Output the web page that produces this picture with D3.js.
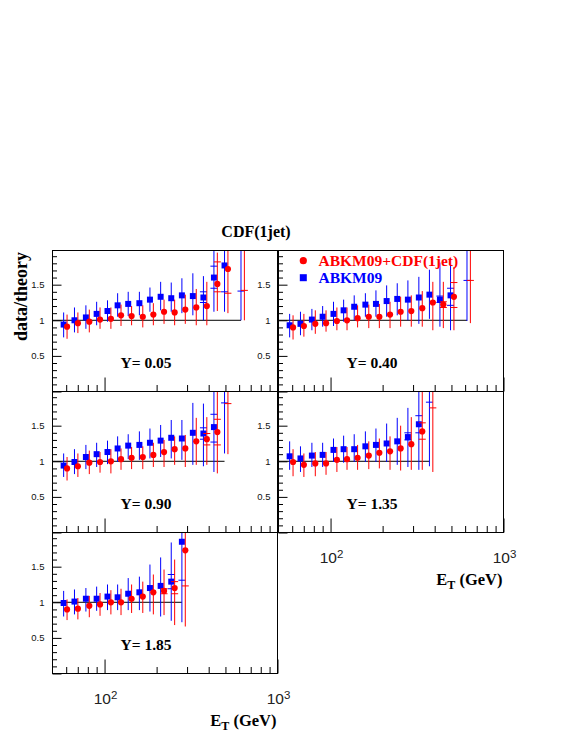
<!DOCTYPE html>
<html>
<head>
<meta charset="utf-8">
<script src="https://cdn.jsdelivr.net/npm/d3@7"></script>
<style>
  body { margin: 0; background: #fff; }
  .tick text { font-family: "Liberation Sans", Arial, sans-serif; }
</style>
</head>
<body>
<div id="chart"></div>
<script>
// ET bin centres (GeV), shared by all rapidity panels
const etBins = [58, 67, 78, 90, 104, 119, 137, 159, 183, 211, 243, 280, 324, 373, 429, 494, 615];
const rapidity = ["0.05", "0.40", "0.90", "1.35", "1.85"];

// ABKM09 (blue squares)
const abkm = [
  [0.94, 1.00, 1.04, 1.09, 1.13, 1.21, 1.23, 1.24, 1.29, 1.33, 1.31, 1.35, 1.34, 1.32, 1.60, 1.77, 2.30],
  [0.93, 0.95, 1.01, 1.05, 1.09, 1.14, 1.19, 1.22, 1.23, 1.27, 1.30, 1.29, 1.32, 1.36, 1.29, 1.35, 2.30],
  [0.94, 0.99, 1.06, 1.10, 1.13, 1.18, 1.22, 1.23, 1.26, 1.29, 1.33, 1.32, 1.40, 1.39, 1.48, 2.30],
  [1.07, 1.04, 1.08, 1.09, 1.16, 1.17, 1.17, 1.21, 1.23, 1.25, 1.28, 1.34, 1.52, 2.30],
  [0.99, 1.01, 1.05, 1.05, 1.08, 1.07, 1.12, 1.14, 1.20, 1.23, 1.29, 1.85]
];
const abkmLow = [
  [0.76, 0.83, 0.88, 0.93, 0.98, 1.05, 1.06, 1.07, 1.12, 1.14, 1.12, 1.10, 1.07, 1.00, 1.12, 1.12, 1.00],
  [0.76, 0.79, 0.86, 0.91, 0.92, 0.98, 1.00, 1.05, 1.05, 1.05, 1.07, 1.00, 0.95, 1.02, 0.91, 0.86, 0.99],
  [0.78, 0.82, 0.89, 0.92, 0.96, 0.99, 1.03, 1.02, 1.04, 1.06, 1.04, 1.02, 0.95, 0.93, 0.85, 1.11],
  [0.88, 0.85, 0.92, 0.92, 0.99, 0.98, 0.99, 0.99, 0.99, 0.99, 0.95, 0.92, 0.88, 0.93],
  [0.80, 0.83, 0.87, 0.88, 0.89, 0.89, 0.89, 0.89, 0.87, 0.80, 0.74, 0.72]
];
const abkmHigh = [
  [1.11, 1.18, 1.21, 1.26, 1.28, 1.38, 1.40, 1.40, 1.46, 1.54, 1.53, 1.59, 1.66, 1.62, 2.20, 2.40, 3.00],
  [1.09, 1.12, 1.16, 1.20, 1.26, 1.29, 1.35, 1.38, 1.42, 1.49, 1.52, 1.56, 1.61, 1.71, 1.81, 1.80, 3.00],
  [1.11, 1.17, 1.23, 1.26, 1.29, 1.35, 1.38, 1.42, 1.46, 1.51, 1.58, 1.58, 1.82, 1.81, 2.40, 3.00],
  [1.28, 1.21, 1.26, 1.26, 1.32, 1.36, 1.38, 1.42, 1.46, 1.53, 1.61, 1.75, 2.30, 3.00],
  [1.16, 1.18, 1.20, 1.22, 1.25, 1.25, 1.34, 1.36, 1.53, 1.63, 1.84, 2.60]
];
// statistical-error caps: [bin index, low, high]
const abkmStat = [
  [[13, 1.25, 1.40], [14, 1.45, 1.76], [15, 1.40, 2.15], [16, 1.41, 3.20]],
  [[14, 1.25, 1.34], [15, 1.21, 1.45], [16, 1.56, 3.20]],
  [[13, 1.31, 1.47], [14, 1.27, 1.66], [15, 1.82, 3.20]],
  [[11, 1.30, 1.40], [12, 1.40, 1.64], [13, 1.83, 3.20]],
  [[10, 1.19, 1.39], [11, 1.31, 2.40]]
];

// ABKM09+CDF(1jet) (red circles)
const fit = [
  [0.91, 0.96, 0.98, 1.01, 1.02, 1.07, 1.06, 1.05, 1.08, 1.12, 1.11, 1.15, 1.18, 1.20, 1.51, 1.72, 2.30],
  [0.90, 0.92, 0.95, 0.96, 0.99, 1.00, 1.03, 1.05, 1.05, 1.08, 1.12, 1.13, 1.17, 1.25, 1.22, 1.33, 2.30],
  [0.90, 0.93, 0.98, 0.99, 1.00, 1.03, 1.05, 1.06, 1.09, 1.13, 1.17, 1.18, 1.28, 1.31, 1.41, 2.30],
  [0.99, 0.95, 0.97, 0.97, 1.02, 1.03, 1.05, 1.08, 1.12, 1.14, 1.18, 1.24, 1.42, 2.30],
  [0.90, 0.91, 0.95, 0.97, 1.00, 1.00, 1.05, 1.08, 1.14, 1.16, 1.20, 1.73]
];
const fitLow = [
  [0.74, 0.82, 0.83, 0.88, 0.88, 0.92, 0.93, 0.90, 0.93, 0.95, 0.93, 0.95, 0.93, 0.93, 1.13, 1.10, 1.00],
  [0.73, 0.77, 0.81, 0.84, 0.86, 0.86, 0.90, 0.89, 0.89, 0.89, 0.91, 0.91, 0.91, 0.86, 0.89, 0.86, 0.96],
  [0.73, 0.78, 0.82, 0.84, 0.83, 0.88, 0.89, 0.89, 0.92, 0.92, 0.95, 0.92, 0.95, 0.95, 0.83, 1.10],
  [0.79, 0.78, 0.79, 0.81, 0.85, 0.88, 0.88, 0.89, 0.90, 0.88, 0.87, 0.88, 0.88, 0.85],
  [0.75, 0.76, 0.79, 0.81, 0.83, 0.82, 0.85, 0.85, 0.83, 0.82, 0.68, 0.66]
];
const fitHigh = [
  [1.08, 1.11, 1.15, 1.18, 1.18, 1.22, 1.20, 1.21, 1.24, 1.29, 1.29, 1.36, 1.44, 1.54, 1.95, 2.40, 3.00],
  [1.07, 1.09, 1.14, 1.14, 1.18, 1.18, 1.21, 1.22, 1.23, 1.26, 1.33, 1.35, 1.41, 1.54, 1.54, 1.75, 3.00],
  [1.06, 1.11, 1.15, 1.13, 1.17, 1.18, 1.20, 1.21, 1.26, 1.30, 1.35, 1.37, 1.61, 1.62, 2.05, 3.00],
  [1.17, 1.11, 1.13, 1.13, 1.20, 1.20, 1.23, 1.28, 1.32, 1.35, 1.50, 1.62, 2.00, 3.00],
  [1.04, 1.06, 1.09, 1.13, 1.17, 1.19, 1.25, 1.29, 1.39, 1.46, 1.60, 2.60]
];
const fitStat = [
  [[14, 1.40, 1.82], [15, 1.38, 2.10], [16, 1.42, 3.20]],
  [[14, 1.18, 1.26], [15, 1.18, 1.53], [16, 1.56, 3.20]],
  [[13, 1.23, 1.39], [14, 1.23, 1.59], [15, 1.81, 3.20]],
  [[12, 1.31, 1.54], [13, 1.75, 3.20]],
  [[9, 1.12, 1.19], [10, 1.12, 1.29], [11, 1.23, 2.30]]
];

const legendLabels = ["ABKM09+CDF(1jet)", "ABKM09"];
const yMajor = [0, 0.5, 1, 1.5];
const yMinor = d3.range(1, 20).map(k => k / 10).filter(v => !yMajor.includes(v));
const xMajor = [100, 1000];
const xMinor = [60, 70, 80, 90, 200, 300, 400, 500, 600, 700, 800, 900];
const xExponent = {100: "2", 1000: "3"};

const width = 572, height = 740;
const W = 225, H = 141;
const colX = [52.5, 278.5], rowY = [250.5, 391.5, 532.5];
const panelPos = [[0, 0], [1, 0], [0, 1], [1, 1], [0, 2]];
const serif = "'Liberation Serif', 'Times New Roman', serif";
const sans = "'Liberation Sans', Arial, sans-serif";

const svg = d3.select("#chart").append("svg")
  .attr("width", width).attr("height", height);
svg.append("rect").attr("width", width).attr("height", height).attr("fill", "#fff");

const series = [
  {val: abkm, lo: abkmLow, hi: abkmHigh, stat: abkmStat, color: "#0000ff", shape: "square", dx: 0},
  {val: fit, lo: fitLow, hi: fitHigh, stat: fitStat, color: "#ff0000", shape: "circle", dx: 3.4}
];

panelPos.forEach(([c, r], i) => {
  const x0 = colX[c], y0 = rowY[r];
  const x = d3.scaleLog().domain([50, 1000]).range([x0, x0 + W]);
  const y = d3.scaleLinear().domain([0, 1.98]).range([y0 + H, y0]);
  const g = svg.append("g");

  svg.append("clipPath").attr("id", "clip" + i)
    .append("rect").attr("x", x0).attr("y", y0).attr("width", W).attr("height", H);

  // y axis (ticks point inside)
  g.append("g").attr("transform", `translate(${x0},0)`)
    .call(d3.axisLeft(y).tickValues(yMinor).tickSize(-4.5).tickFormat(""))
    .call(a => a.select(".domain").remove());
  g.append("g").attr("transform", `translate(${x0},0)`)
    .call(d3.axisLeft(y).tickValues(yMajor).tickSize(-9).tickPadding(8)
      .tickFormat(v => v === 0 ? "" : d3.format("")(v)))
    .call(a => a.select(".domain").remove())
    .call(a => a.selectAll("text").attr("font-size", 9.5).attr("fill", "#111"));

  // x axis
  g.append("g").attr("transform", `translate(0,${y0 + H})`)
    .call(d3.axisBottom(x).tickValues(xMinor).tickSize(-6.5).tickFormat(""))
    .call(a => a.select(".domain").remove());
  g.append("g").attr("transform", `translate(0,${y0 + H})`)
    .call(d3.axisBottom(x).tickValues(xMajor).tickSize(-14).tickFormat(""))
    .call(a => a.select(".domain").remove());

  g.selectAll(".tick line").attr("stroke", "#000");

  const n = series[0].val[i].length;
  const et = etBins.slice(0, n);

  // reference line at 1
  g.append("line")
    .attr("x1", x(50)).attr("x2", x(et[n - 1]))
    .attr("y1", y(1)).attr("y2", y(1))
    .attr("stroke", "#000").attr("stroke-width", 1);

  const plot = g.append("g").attr("clip-path", `url(#clip${i})`);
  series.forEach(s => {
    const pts = et.map((e, k) => ({e, v: s.val[i][k], lo: s.lo[i][k], hi: s.hi[i][k]}));
    plot.selectAll(null).data(pts).join("line")
      .attr("x1", d => x(d.e) + s.dx).attr("x2", d => x(d.e) + s.dx)
      .attr("y1", d => y(d.lo)).attr("y2", d => y(d.hi))
      .attr("stroke", s.color).attr("stroke-width", 1);
    const caps = [];
    s.stat[i].forEach(([k, lo, hi]) => {
      caps.push({e: et[k], v: lo});
      caps.push({e: et[k], v: hi});
    });
    plot.selectAll(null).data(caps).join("line")
      .attr("x1", d => x(d.e) + s.dx - 3.5).attr("x2", d => x(d.e) + s.dx + 3.5)
      .attr("y1", d => y(d.v)).attr("y2", d => y(d.v))
      .attr("stroke", s.color).attr("stroke-width", 1);
    if (s.shape === "square") {
      plot.selectAll(null).data(pts).join("rect")
        .attr("x", d => x(d.e) + s.dx - 3).attr("y", d => y(d.v) - 3)
        .attr("width", 6).attr("height", 6).attr("fill", s.color);
    } else {
      plot.selectAll(null).data(pts).join("circle")
        .attr("cx", d => x(d.e) + s.dx).attr("cy", d => y(d.v))
        .attr("r", 3.1).attr("fill", s.color);
    }
  });

  // frame
  g.append("rect").attr("x", x0).attr("y", y0).attr("width", W).attr("height", H)
    .attr("fill", "none").attr("stroke", "#000").attr("stroke-width", 1);

  g.append("text")
    .attr("x", x0 + 93.5).attr("y", y0 + 117.5)
    .attr("text-anchor", "middle")
    .attr("font-family", serif).attr("font-weight", "bold").attr("font-size", 15.5)
    .text("Y= " + rapidity[i]);

  // x tick labels and title under the lowest panel of each column
  const isBottom = (c === 0 && r === 2) || (c === 1 && r === 1);
  if (isBottom) {
    xMajor.forEach(v => {
      const t = g.append("text")
        .attr("x", x(v) + 1).attr("y", y0 + H + 30)
        .attr("text-anchor", "middle")
        .attr("font-family", sans).attr("font-size", 15.5).attr("fill", "#222");
      t.append("tspan").text("10");
      t.append("tspan").attr("dy", -5).attr("font-size", 11.5).text(xExponent[v]);
    });
    const lab = g.append("text")
      .attr("x", x0 + W - 1).attr("y", y0 + H + 52)
      .attr("text-anchor", "end")
      .attr("font-family", serif).attr("font-weight", "bold").attr("font-size", 16.5);
    lab.append("tspan").text("E");
    lab.append("tspan").attr("dy", 4).attr("font-size", 12).text("T");
    lab.append("tspan").attr("dy", -4).text(" (GeV)");
  }
});

// title and y label
svg.append("text")
  .attr("x", 256).attr("y", 237)
  .attr("text-anchor", "middle")
  .attr("font-family", serif).attr("font-weight", "bold").attr("font-size", 16)
  .text("CDF(1jet)");

svg.append("text")
  .attr("transform", "translate(27,252) rotate(-90)")
  .attr("text-anchor", "end")
  .attr("font-family", serif).attr("font-weight", "bold").attr("font-size", 18)
  .text("data/theory");

// legend
const legend = svg.append("g");
const legendColors = ["#ff0000", "#0000ff"];
legendLabels.forEach((label, k) => {
  const ly = 260.7 + k * 17;
  if (k === 0) {
    legend.append("circle").attr("cx", 303.3).attr("cy", ly).attr("r", 3.6).attr("fill", legendColors[k]);
  } else {
    legend.append("rect").attr("x", 299.8).attr("y", ly - 3.5).attr("width", 7).attr("height", 7).attr("fill", legendColors[k]);
  }
  legend.append("text")
    .attr("x", 318.5).attr("y", ly + 5)
    .attr("font-family", serif).attr("font-weight", "bold").attr("font-size", 15.5)
    .attr("fill", legendColors[k])
    .text(label);
});
</script>
</body>
</html>
